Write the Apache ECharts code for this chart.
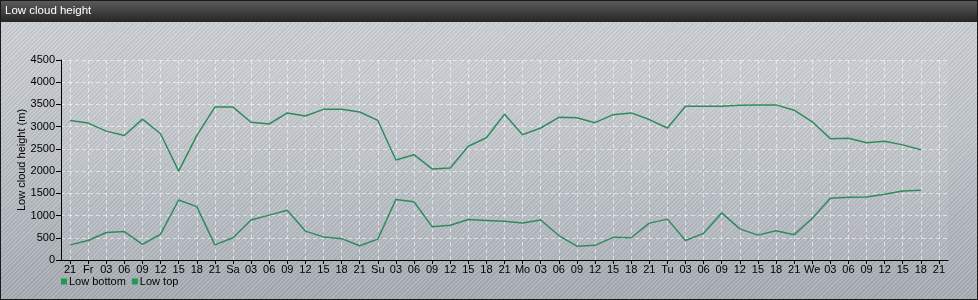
<!DOCTYPE html>
<html>
<head>
<meta charset="utf-8">
<script src="https://cdn.jsdelivr.net/npm/echarts@6/dist/echarts.min.js"></script>
<style>
html,body{margin:0;padding:0;width:978px;height:300px;overflow:hidden;}
#wrap{position:absolute;left:0;top:0;width:976px;height:298px;border:1px solid #1a1a1a;
background:
 repeating-linear-gradient(-45deg, rgba(255,255,255,0.10) 0px, rgba(255,255,255,0.10) 1.5px, rgba(0,0,0,0.045) 1.5px, rgba(0,0,0,0.045) 3px),
 linear-gradient(to bottom, #cdd1d6 0%, #bcc1c7 50%, #a5abb2 100%);}
#chart{position:absolute;left:0;top:0;width:978px;height:300px;}
</style>
</head>
<body>
<div id="wrap"></div>
<div id="chart"></div>
<script>
const categories = ['21','Fr','03','06','09','12','15','18','21','Sa','03','06','09','12','15','18','21','Su','03','06','09','12','15','18','21','Mo','03','06','09','12','15','18','21','Tu','03','06','09','12','15','18','21','We','03','06','09','12','15','18','21'];
const lowBottom = [340,440,620,640,350,580,1350,1200,340,
  500,900,1010,1120,650,520,480,320,
  470,1360,1310,750,780,910,890,870,
  830,900,550,310,330,510,500,830,
  920,440,600,1060,700,560,660,570,
  940,1390,1410,1420,1480,1550,1570,null];
const lowTop = [3140,3080,2900,2800,3170,2840,2000,2800,3440,
  3440,3100,3060,3310,3240,3390,3390,3330,
  3140,2250,2370,2050,2070,2560,2750,3280,
  2820,2970,3210,3200,3090,3270,3310,3160,
  2970,3460,3460,3460,3480,3490,3490,3370,
  3110,2730,2740,2640,2670,2590,2480,null];
const yTicks = {min:0, max:4500, interval:500};

const chart = echarts.init(document.getElementById('chart'), null, {renderer:'canvas'});
const lineColor = '#2e8b5c';
const font = 'Liberation Sans, Arial, sans-serif';
chart.setOption({
  animation:false,
  backgroundColor:'transparent',
  textStyle:{fontFamily:font},
  graphic:[{
    type:'rect', left:1, top:1, z:-1,
    shape:{width:976, height:21},
    style:{fill:new echarts.graphic.LinearGradient(0,0,0,1,[{offset:0,color:'#5a5a5a'},{offset:1,color:'#262626'}])}
  }],
  title:{text:'Low cloud height', left:5, top:5, padding:0,
    textStyle:{color:'#ffffff', fontSize:11.5, fontWeight:'normal', fontFamily:font}},
  legend:{left:56, top:271, itemWidth:6, itemHeight:6, itemGap:6, icon:'rect',
    textStyle:{color:'#000', fontSize:11, fontFamily:font, padding:[0,0,0,-3]},
    itemStyle:{color:'#1f9a4f'},
    data:['Low bottom','Low top']},
  grid:{left:61, right:30, top:60, bottom:40, show:true, backgroundColor:'rgba(255,255,255,0.07)', borderWidth:0},
  xAxis:{type:'category', data:categories, boundaryGap:true,
    axisLine:{lineStyle:{color:'#000', width:1}},
    axisTick:{show:true, alignWithLabel:true, length:4, lineStyle:{color:'#000'}},
    axisLabel:{interval:0, color:'#000', fontSize:11, margin:4, fontFamily:font},
    splitLine:{show:true, alignWithLabel:true, interval:0, lineStyle:{color:'rgba(255,255,255,0.55)', type:[4,3], width:1}}},
  yAxis:{type:'value', min:yTicks.min, max:yTicks.max, interval:yTicks.interval,
    name:'Low cloud height (m)', nameLocation:'middle', nameGap:34, nameMoveOverlap:false,
    nameTextStyle:{color:'#000', fontSize:11, fontFamily:font},
    axisLine:{show:true, lineStyle:{color:'#000', width:1}},
    axisTick:{show:true, length:5, lineStyle:{color:'#000'}},
    axisLabel:{color:'#000', fontSize:11, margin:6, fontFamily:font, formatter:function(v){return String(v);}},
    splitLine:{show:true, lineStyle:{color:'rgba(255,255,255,0.55)', type:[4,3], width:1}}},
  series:[
    {name:'Low bottom', type:'line', data:lowBottom, showSymbol:false, symbol:'none', color:lineColor, lineStyle:{width:1.5, color:lineColor}},
    {name:'Low top', type:'line', data:lowTop, showSymbol:false, symbol:'none', color:lineColor, lineStyle:{width:1.5, color:lineColor}}
  ]
});
</script>
</body>
</html>
